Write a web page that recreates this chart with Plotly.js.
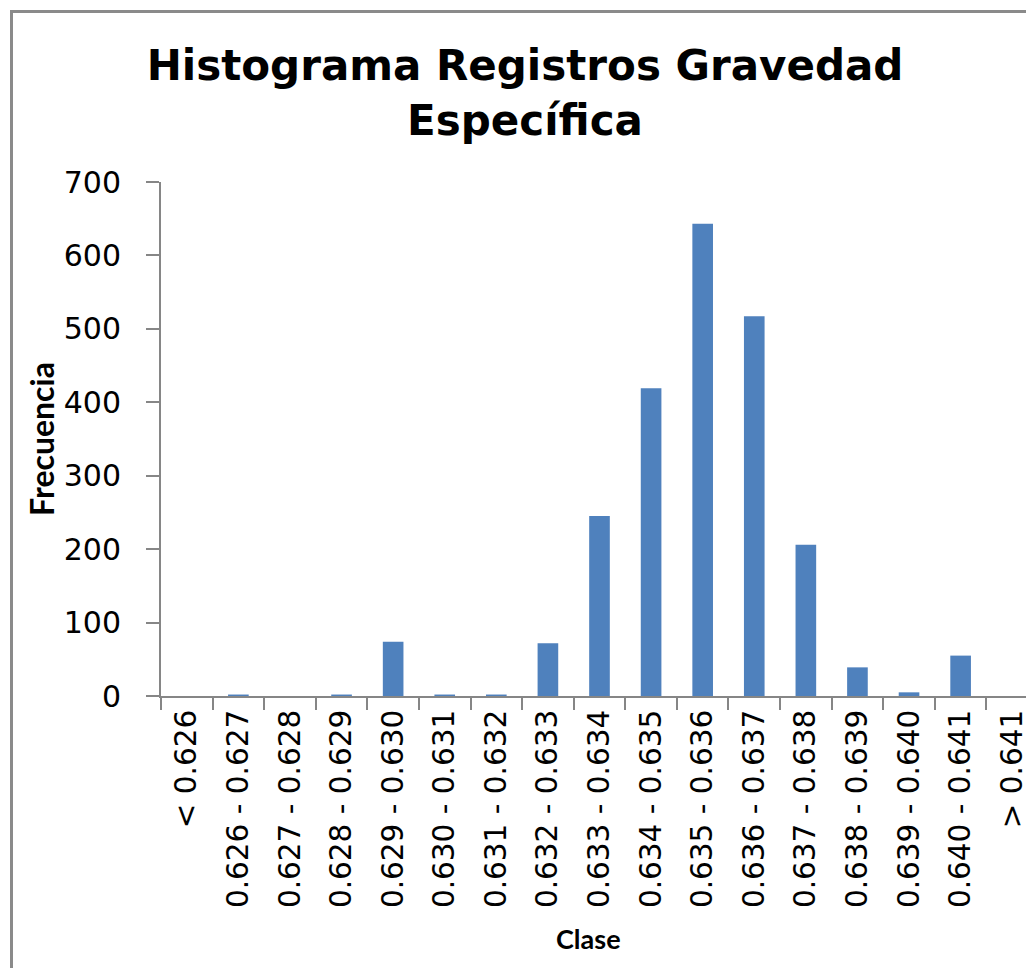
<!DOCTYPE html>
<html>
<head>
<meta charset="utf-8">
<script src="https://cdn.plot.ly/plotly-3.0.1.min.js"></script>
<style>
  html, body { margin: 0; padding: 0; overflow: hidden; background: #fff; }
  #frame { position: absolute; left: 10px; top: 10px; width: 1100px; height: 1000px;
           border-left: 3px solid #8a8a8a; border-top: 3px solid #8a8a8a; box-sizing: border-box; }
  #chart { position: absolute; left: 0; top: 0; }
</style>
</head>
<body>
<div id="frame"></div>
<div id="chart"></div>
<script>
const categories = ["< 0.626", "0.626 - 0.627", "0.627 - 0.628", "0.628 - 0.629", "0.629 - 0.630",
  "0.630 - 0.631", "0.631 - 0.632", "0.632 - 0.633", "0.633 - 0.634", "0.634 - 0.635",
  "0.635 - 0.636", "0.636 - 0.637", "0.637 - 0.638", "0.638 - 0.639", "0.639 - 0.640",
  "0.640 - 0.641", "> 0.641"];
const frecuencia = [0, 2, 0, 2, 74, 2, 2, 72, 245, 419, 643, 517, 206, 39, 5, 55, 0];
const yTicks = [0, 100, 200, 300, 400, 500, 600, 700];
const xTitle = 'Clase';
const yTitle = 'Frecuencia';
const chartTitle = 'Histograma Registros Gravedad<br>Específica';

const trace = {
  type: 'bar',
  x: categories,
  y: frecuencia,
  marker: { color: '#4F81BD', line: { width: 0 } },
  hoverinfo: 'x+y'
};

const layout = {
  width: 1060,
  height: 968,
  margin: { l: 161, r: 22, t: 182, b: 272 },
  paper_bgcolor: 'rgba(0,0,0,0)',
  plot_bgcolor: 'rgba(0,0,0,0)',
  bargap: 0.6,
  showlegend: false,
  title: {
    text: '<b>' + chartTitle + '</b>',
    font: { family: '"DejaVu Sans", sans-serif', size: 42, color: '#000' },
    xref: 'container', x: 525 / 1060, xanchor: 'center',
    yref: 'container', y: 1 - 80 / 968, yanchor: 'top'
  },
  xaxis: {
    type: 'category',
    tickangle: -90,
    ticks: 'outside',
    tickson: 'boundaries',
    ticklen: 12,
    tickcolor: '#868686',
    tickwidth: 2,
    showline: true,
    linecolor: '#868686',
    linewidth: 2,
    showgrid: false,
    zeroline: false,
    tickfont: { family: '"DejaVu Sans", sans-serif', size: 29.5, color: '#000' },
    range: [-0.5, 16.5],
    fixedrange: true
  },
  yaxis: {
    range: [0, 700],
    tickvals: yTicks,
    ticktext: yTicks.map(String),
    ticks: 'outside',
    ticklen: 13,
    tickcolor: '#868686',
    tickwidth: 2,
    ticklabelstandoff: 19,
    showline: true,
    linecolor: '#868686',
    linewidth: 2,
    showgrid: false,
    zeroline: false,
    tickfont: { family: '"DejaVu Sans", sans-serif', size: 30, color: '#000' },
    title: { text: '<b>' + yTitle + '</b>', font: { family: 'Lato, "Open Sans", sans-serif', size: 32, color: '#000' }, standoff: 0 },
    fixedrange: true
  },
  annotations: [{
    text: '<b>' + xTitle + '</b>',
    xref: 'paper', x: (588 - 161) / (1038 - 161), xanchor: 'center',
    yref: 'paper', y: -(938 - 696) / (696 - 182), yanchor: 'middle',
    showarrow: false,
    font: { family: 'Lato, "Open Sans", sans-serif', size: 27, color: '#000' }
  }]
};

Plotly.newPlot('chart', [trace], layout, { displayModeBar: false, staticPlot: true });
</script>
</body>
</html>
